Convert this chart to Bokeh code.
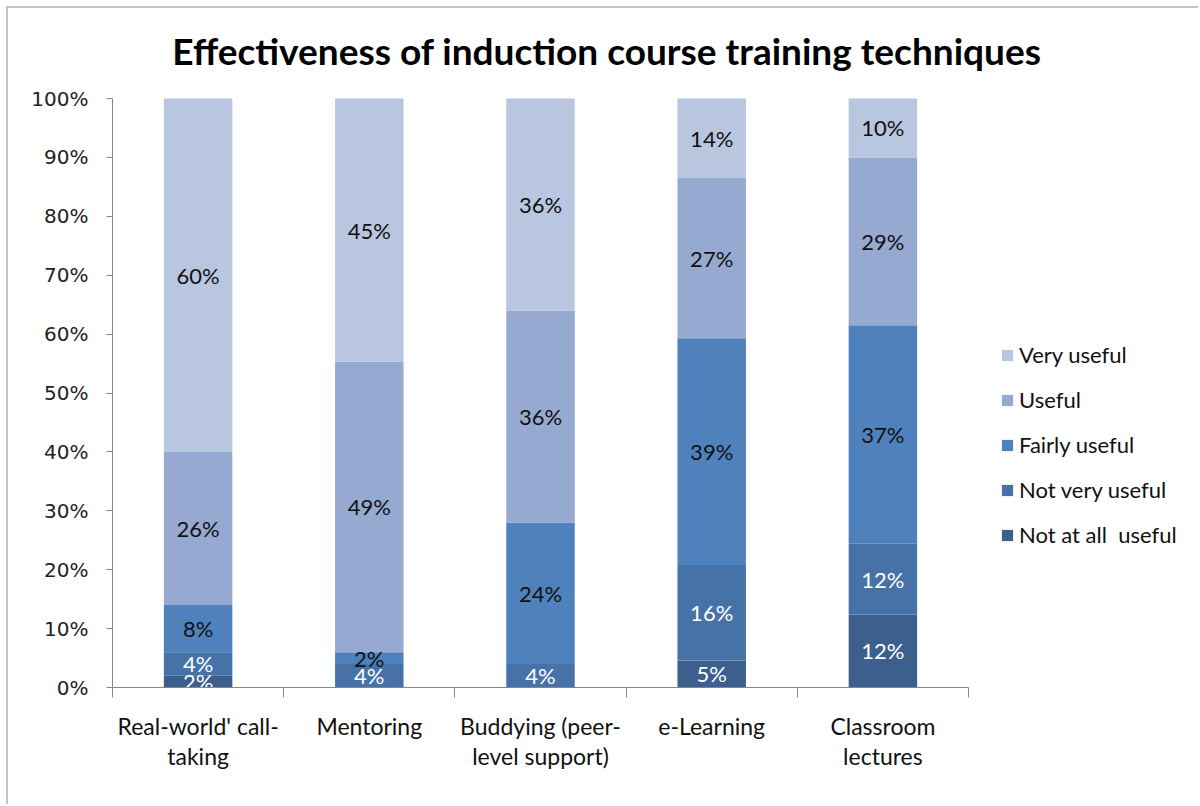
from bokeh.plotting import figure
from bokeh.models import (ColumnDataSource, Range1d, FixedTicker, PrintfTickFormatter,
                          Legend, LegendItem, Label)
from bokeh.core.properties import value
from bokeh.embed import file_html
from bokeh.resources import INLINE

# ---- data ----
categories = ["Real-world' call-\ntaking", "Mentoring", "Buddying (peer-\nlevel support)",
              "e-Learning", "Classroom\nlectures"]
series = ["Not at all  useful", "Not very useful", "Fairly useful", "Useful", "Very useful"]
not_at_all = [2.0, 0.0, 0.0, 4.6, 12.4]
not_very = [4.0, 4.0, 4.0, 16.2, 12.0]
fairly = [8.0, 2.0, 24.0, 38.5, 37.1]
useful = [26.0, 49.3, 36.0, 27.2, 28.5]
very = [60.0, 44.7, 36.0, 13.5, 10.0]
y_ticks = list(range(0, 101, 10))
title_text = "Effectiveness of induction  course training techniques"

colors = ["#3C5F8E", "#4672A8", "#4F81BD", "#95A9D1", "#B9C6E0"]
label_colors = ["white", "white", "#111111", "#111111", "#111111"]

values = [not_at_all, not_very, fairly, useful, very]
n = len(categories)
xs = [i + 0.5 for i in range(n)]
keys = ["s%d" % i for i in range(len(series))]

data = {"x": xs}
for k, v in zip(keys, values):
    data[k] = v
source = ColumnDataSource(data)

# label positions computed from the stacked values
lx, ly, lt, lc = [], [], [], []
for ci in range(n):
    base = 0.0
    for si, v in enumerate(values):
        val = v[ci]
        if val > 0:
            lx.append(xs[ci])
            ly.append(base + val / 2.0)
            lt.append("%d%%" % int(val + 0.5))
            lc.append(label_colors[si])
        base += val
labels_src = ColumnDataSource(dict(x=lx, y=ly, text=lt, color=lc))

# layout (pixels): plot area 856 px wide for the categories, 589 px tall for 0-100%
W, H = 1192, 798
left, bottom = 104, 119
frame_w, frame_h = W - left, H - bottom
cat_px, pct_px = 856.0, 589.0

p = figure(width=W, height=H, output_backend="svg", toolbar_location=None, title=None,
           x_range=Range1d(0, n * frame_w / cat_px), y_range=Range1d(0, 100 * frame_h / pct_px),
           min_border_left=left, min_border_right=0, min_border_top=0,
           min_border_bottom=bottom,
           styles={"margin-top": "6px", "margin-left": "6px",
                   "border-top": "2px solid #c4c4c4", "border-left": "2px solid #c4c4c4"})
p.outline_line_color = None
p.xgrid.grid_line_color = None
p.ygrid.grid_line_color = None
p.background_fill_color = "white"
p.border_fill_color = "white"

renderers = p.vbar_stack(keys, x="x", width=0.4, color=colors, line_color=None, source=source)

p.text(x="x", y="y", text="text", source=labels_src, text_color="color",
       text_align="center", text_baseline="middle",
       text_font=value("Lato"), text_font_size="22px")

# title
p.add_layout(Label(x=499, y=637, x_units="screen", y_units="screen", text=title_text,
                   text_align="center", text_baseline="middle", text_font="Lato",
                   text_font_style="bold", text_font_size="37px", text_color="#000000"))

# y axis
ya = p.yaxis[0]
ya.bounds = (0, 100)
ya.ticker = FixedTicker(ticks=y_ticks)
ya.formatter = PrintfTickFormatter(format="%d%%")
ya.axis_line_color = "#868686"
ya.major_tick_line_color = "#868686"
ya.major_tick_out = 6
ya.major_tick_in = 0
ya.minor_tick_line_color = None
ya.major_label_standoff = 18
ya.major_label_text_font = "DejaVu Sans"
ya.major_label_text_font_size = "20px"
ya.major_label_text_color = "#222222"

# x axis: labels at category centres, ticks between categories
xa = p.xaxis[0]
xa.bounds = (0, n)
xa.ticker = FixedTicker(ticks=xs, minor_ticks=list(range(0, n + 1)))
xa.major_label_overrides = {x: c for x, c in zip(xs, categories)}
xa.axis_line_color = "#868686"
xa.major_tick_line_color = None
xa.major_tick_out = 0
xa.major_tick_in = 0
xa.minor_tick_line_color = "#868686"
xa.minor_tick_out = 10
xa.minor_tick_in = 0
xa.major_label_standoff = 14
xa.major_label_text_font = "Lato"
xa.major_label_text_font_size = "23px"
xa.major_label_text_color = "#111111"
xa.major_label_text_line_height = 1.09

# legend
items = [LegendItem(label=series[i], renderers=[renderers[i]]) for i in reversed(range(len(series)))]
legend = Legend(items=items, location=(888, 139), border_line_color=None,
                background_fill_alpha=0, label_text_font="Lato", label_text_font_size="22px",
                label_text_color="#111111", glyph_width=14, glyph_height=14,
                label_height=22, spacing=18, padding=0, margin=0, label_standoff=5)
p.add_layout(legend, "center")

open("out.html", "w").write(file_html(p, INLINE))
